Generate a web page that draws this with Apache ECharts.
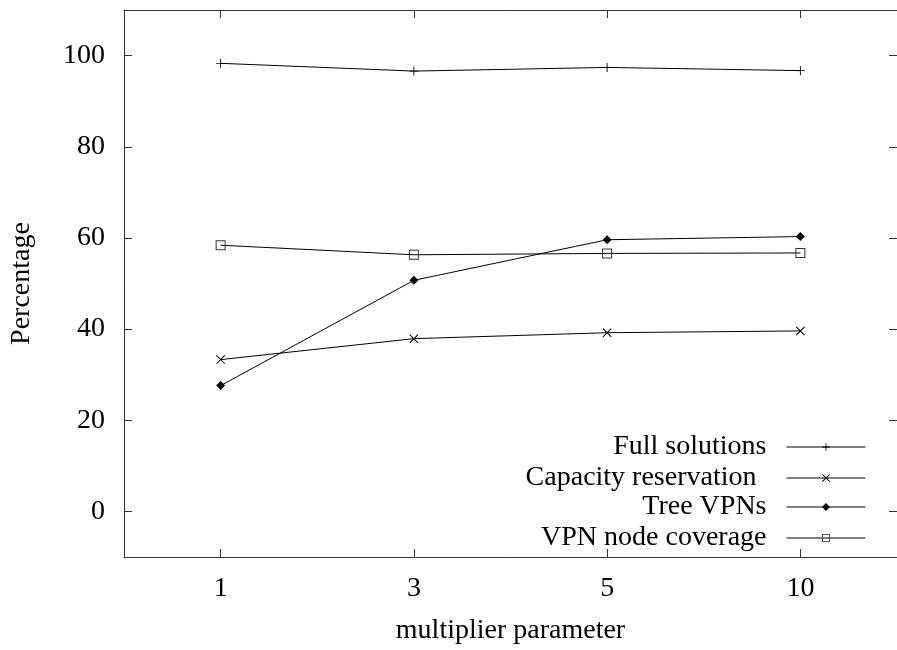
<!DOCTYPE html>
<html>
<head>
<meta charset="utf-8">
<script src="https://cdn.jsdelivr.net/npm/echarts@6/dist/echarts.min.js"></script>
<style>html,body{margin:0;padding:0;background:#fff}#c{width:897px;height:650px}</style>
</head>
<body>
<div id="c"></div>
<script>
var categories = ['1', '3', '5', '10'];
var fullSolutions = [98.3, 96.6, 97.4, 96.7];
var capacityReservation = [33.3, 37.9, 39.2, 39.6];
var treeVPNs = [27.6, 50.7, 59.6, 60.3];
var vpnNodeCoverage = [58.4, 56.3, 56.6, 56.7];
var yTicks = [0, 20, 40, 60, 80, 100];
var seriesNames = ['Full solutions', 'Capacity reservation', 'Tree VPNs', 'VPN node coverage'];

var FONT = '"Liberation Serif", "Times New Roman", serif';
var FS = 28;
var AX = '#333';

var plusPath = 'path://M0,4.5h10v1h-10z M4.5,0h1v10h-1z';
var crossPath = 'path://M0,0.8L0.8,0L10,9.2L9.2,10Z M9.2,0L10,0.8L0.8,10L0,9.2Z';
var squarePath = 'path://M0,0h10v10h-10z M1,1v8h8v-8z';

function mkSeries(name, data, symbol, size, itemStyle) {
  return {
    name: name, type: 'line', data: data, symbol: symbol, symbolSize: size,
    showAllSymbol: true, animation: false,
    lineStyle: { color: '#000', width: 1 },
    itemStyle: itemStyle,
    emphasis: { disabled: true }
  };
}

var series = [
  mkSeries(seriesNames[0], fullSolutions, plusPath, 9, { color: '#000' }),
  mkSeries(seriesNames[1], capacityReservation, crossPath, 9, { color: '#000' }),
  mkSeries(seriesNames[2], treeVPNs, 'diamond', 9, { color: '#000' }),
  mkSeries(seriesNames[3], vpnNodeCoverage, squarePath, 10, { color: '#333' })
];

var legendTops = [433, 464, 493, 524];
var legendGaps = [15, 25, 15, 15];
var legends = seriesNames.map(function (n, i) {
  return {
    data: [n], right: 31, top: legendTops[i], orient: 'vertical', align: 'right',
    itemWidth: 79, itemHeight: 10, selectedMode: false, padding: 0,
    lineStyle: { width: 1 },
    textStyle: { fontFamily: FONT, fontSize: FS, color: '#000', padding: [0, legendGaps[i], 0, 0] }
  };
});

var chart = echarts.init(document.getElementById('c'), null, { renderer: 'canvas' });
chart.setOption({
  animation: false,
  backgroundColor: '#fff',
  grid: { left: 124, top: 10, width: 776, height: 548, containLabel: false },
  legend: legends,
  xAxis: [{
    type: 'category', data: categories, boundaryGap: true, position: 'bottom',
    name: 'multiplier parameter', nameLocation: 'middle', nameGap: 60,
    nameTextStyle: { fontFamily: FONT, fontSize: FS, color: '#000' },
    axisLine: { show: true, onZero: false, lineStyle: { color: AX, width: 1 } },
    axisTick: { show: true, inside: true, length: 8, alignWithLabel: true, lineStyle: { color: AX } },
    axisLabel: { fontFamily: FONT, fontSize: FS, color: '#000', margin: 18 },
    splitLine: { show: false }
  }, {
    type: 'category', data: categories, boundaryGap: true, position: 'top',
    axisLine: { show: true, onZero: false, lineStyle: { color: AX, width: 1 } },
    axisTick: { show: true, inside: true, length: 8, alignWithLabel: true, lineStyle: { color: AX } },
    axisLabel: { show: false }, splitLine: { show: false }
  }],
  yAxis: [{
    type: 'value', min: -10, max: 110, interval: 10, position: 'left',
    name: 'Percentage', nameLocation: 'middle', nameGap: 88, nameRotate: 90,
    nameTextStyle: { fontFamily: FONT, fontSize: FS, color: '#000' },
    axisLine: { show: true, onZero: false, lineStyle: { color: AX, width: 1 } },
    axisTick: { show: true, inside: true, length: 8, customValues: yTicks, lineStyle: { color: AX } },
    axisLabel: { fontFamily: FONT, fontSize: FS, color: '#000', margin: 19, customValues: yTicks },
    splitLine: { show: false }
  }, {
    type: 'value', min: -10, max: 110, interval: 10, position: 'right',
    axisLine: { show: true, onZero: false, lineStyle: { color: AX, width: 1 } },
    axisTick: { show: true, inside: true, length: 8, customValues: yTicks, lineStyle: { color: AX } },
    axisLabel: { show: false }, splitLine: { show: false }
  }],
  series: series
});
</script>
</body>
</html>
